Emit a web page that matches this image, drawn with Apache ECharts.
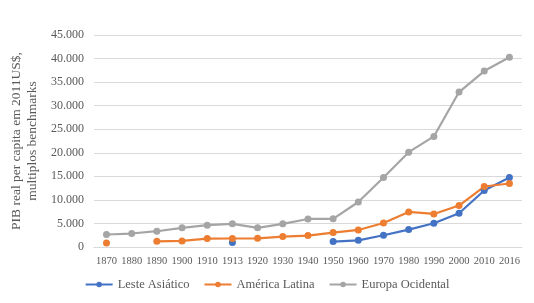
<!DOCTYPE html>
<html>
<head>
<meta charset="utf-8">
<script src="https://cdn.jsdelivr.net/npm/echarts@6/dist/echarts.min.js"></script>
<style>
  html, body { margin: 0; padding: 0; background: #fff; }
  #chart { width: 534px; height: 303px; }
</style>
</head>
<body>
<div id="chart"></div>
<script>
var years = ['1870', '1880', '1890', '1900', '1910', '1913', '1920', '1930', '1940',
    '1950', '1960', '1970', '1980', '1990', '2000', '2010', '2016'];
var lesteAsiatico = [null, null, null, null, null, 940, null, null, null,
    1150, 1420, 2490, 3700, 5040, 7160, 11990, 14750];
var americaLatina = [850, null, 1210, 1280, 1780, 1800, 1850, 2210, 2420,
    3060, 3620, 5100, 7440, 7020, 8800, 12840, 13480];
var europaOcidental = [2650, 2860, 3350, 4060, 4640, 4920, 4060, 4920, 5950,
    5980, 9550, 14750, 20130, 23470, 32890, 37350, 40260];

var font = '"Liberation Serif", "DejaVu Serif", serif';
var chart = echarts.init(document.getElementById('chart'));

function serie(name, data, color) {
    return {
        name: name,
        type: 'line',
        data: data,
        color: color,
        symbol: 'circle',
        symbolSize: 7,
        showAllSymbol: true,
        lineStyle: { width: 2.2, color: color },
        itemStyle: { color: color },
        connectNulls: false
    };
}

var option = {
    animation: false,
    grid: { left: 90, right: 12, top: 35, bottom: 56 },
    legend: {
        bottom: 7,
        left: 'center',
        itemWidth: 27,
        itemHeight: 7,
        itemGap: 14,
        textStyle: { fontFamily: font, fontSize: 12.5, color: '#595959' },
        data: ['Leste Asiático', 'América Latina', 'Europa Ocidental']
    },
    xAxis: {
        type: 'category',
        data: years,
        axisLine: { lineStyle: { color: '#d9d9d9' } },
        axisTick: { show: false },
        axisLabel: { fontFamily: font, fontSize: 10.5, color: '#595959', margin: 9, interval: 0 }
    },
    yAxis: {
        type: 'value',
        min: 0,
        max: 45000,
        interval: 5000,
        name: 'PIB real per capita em 2011US$,\nmultiplos benchmarks',
        nameLocation: 'middle',
        nameGap: 51,
        nameTextStyle: { fontFamily: font, fontSize: 13.5, color: '#595959', lineHeight: 16 },
        axisLine: { show: false },
        axisTick: { show: false },
        splitLine: { lineStyle: { color: '#d9d9d9' } },
        axisLabel: {
            fontFamily: font, fontSize: 12, color: '#595959', margin: 10,
            formatter: function (v) {
                return v.toString().replace(/\B(?=(\d{3})+(?!\d))/g, '.');
            }
        }
    },
    series: [
        serie('Leste Asiático', lesteAsiatico, '#4472C4'),
        serie('América Latina', americaLatina, '#ED7D31'),
        serie('Europa Ocidental', europaOcidental, '#A5A5A5')
    ]
};
chart.setOption(option);
</script>
</body>
</html>
